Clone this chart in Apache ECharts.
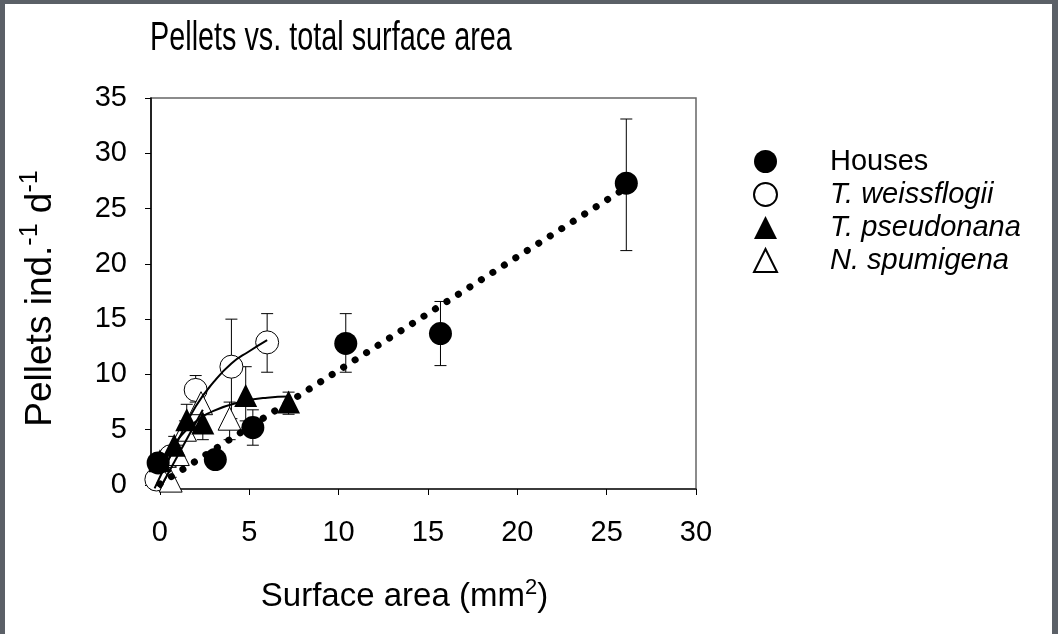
<!DOCTYPE html>
<html>
<head>
<meta charset="utf-8">
<script src="https://cdn.jsdelivr.net/npm/echarts@6/dist/echarts.min.js"></script>
<style>
  html, body { margin: 0; padding: 0; background: #5b6067; }
  #panel { position: absolute; left: 5px; top: 4px; width: 1047px; height: 630px; background: #fff; }
  #main { position: absolute; left: 0; top: 0; width: 1058px; height: 634px; }
</style>
</head>
<body>
<div id="panel"></div>
<div id="main"></div>
<script>
// tick labels
const xTicks = [0, 5, 10, 15, 20, 25, 30];
const yTicks = [0, 5, 10, 15, 20, 25, 30, 35];

// Houses (filled circles)
const housesX = [-0.1, 3.1, 5.2, 10.4, 15.7, 26.1];
const housesY = [2.0, 2.3, 5.2, 12.8, 13.7, 27.3];
const housesLow = [1.6, 2.0, 3.6, 10.2, 10.8, 21.2];
const housesHigh = [2.4, 2.6, 6.8, 15.5, 16.6, 33.1];

// T. weissflogii (open circles)
const weissX = [-0.2, 0.6, 2.0, 4.0, 6.0];
const weissY = [0.5, 2.6, 8.6, 10.7, 12.9];
const weissLow = [0.3, 1.6, 7.5, 6.0, 10.2];
const weissHigh = [0.8, 3.5, 9.9, 15.0, 15.5];

// T. pseudonana (filled triangles)
const pseudoX = [0.0, 0.8, 1.5, 2.4, 4.8, 7.2];
const pseudoY = [2.2, 3.6, 5.9, 5.6, 8.1, 7.5];
const pseudoLow = [1.4, 2.8, 4.5, 4.1, 5.8, 6.4];
const pseudoHigh = [2.9, 4.4, 7.3, 6.6, 10.7, 8.4];

// N. spumigena (open triangles)
const spumX = [0.6, 1.0, 1.4, 2.3, 3.9];
const spumY = [0.4, 2.8, 5.0, 7.4, 6.0];
const spumLow = [0.2, 2.0, 4.2, 6.5, 4.1];
const spumHigh = [0.7, 3.6, 5.8, 8.3, 7.5];

// fitted curves
const housesFitX = [0.0, 26.1];
const housesFitY = [0.1, 26.9];
const weissFitX = [-0.3, 0.5, 1.0, 2.0, 3.0, 4.0, 5.0, 6.0];
const weissFitY = [-0.3, 2.4, 4.0, 7.1, 9.3, 11.0, 12.1, 13.1];
const pseudoFitX = [0.0, 0.5, 1.0, 1.9, 3.0, 4.5, 6.0, 7.2];
const pseudoFitY = [1.2, 2.9, 4.1, 5.6, 6.7, 7.5, 7.9, 8.0];
const spumFitX = [0.0, 2.4];
const spumFitY = [-0.3, 6.8];

const FONT = "'Liberation Sans', Arial, sans-serif";

function zip(xs, ys) {
  return xs.map((x, i) => [x, ys[i]]);
}

function errorBars(name, xs, lows, highs) {
  return {
    name: name + " error",
    type: "custom",
    silent: true,
    z: 2,
    data: xs.map((x, i) => [x, lows[i], highs[i]]),
    encode: { x: 0, y: [1, 2] },
    renderItem: (params, api) => {
      const lo = api.coord([api.value(0), api.value(1)]);
      const hi = api.coord([api.value(0), api.value(2)]);
      const cap = 6;
      const style = { stroke: "#000", lineWidth: 1 };
      return {
        type: "group",
        children: [
          { type: "line", shape: { x1: lo[0], y1: lo[1], x2: hi[0], y2: hi[1] }, style },
          { type: "line", shape: { x1: lo[0] - cap, y1: lo[1], x2: lo[0] + cap, y2: lo[1] }, style },
          { type: "line", shape: { x1: hi[0] - cap, y1: hi[1], x2: hi[0] + cap, y2: hi[1] }, style },
        ],
      };
    },
  };
}

function points(name, xs, ys, symbol, filled) {
  return {
    name: name,
    type: "scatter",
    z: 3,
    symbol: symbol,
    symbolSize: 23,
    data: zip(xs, ys),
    itemStyle: {
      color: filled ? "#000" : "#fff",
      borderColor: "#000",
      borderWidth: filled ? 0 : 1,
      opacity: 1,
    },
  };
}

function fitLine(name, xs, ys, dotted) {
  return {
    name: name + " fit",
    type: "line",
    z: 4,
    silent: true,
    showSymbol: false,
    smooth: !dotted,
    data: zip(xs, ys),
    lineStyle: dotted
      ? { color: "#000", width: 7, type: [0.1, 13.5], cap: "round" }
      : { color: "#000", width: 2 },
  };
}

const chart = echarts.init(document.getElementById("main"), null, { renderer: "canvas" });

const option = {
  backgroundColor: "transparent",
  animation: false,
  graphic: [
    {
      type: "text",
      x: 150,
      y: 19,
      scaleX: 0.72,
      style: {
        text: "Pellets vs. total surface area",
        fontFamily: FONT,
        fontSize: 40,
        fill: "#000",
      },
    },
  ],
  legend: {
    orient: "vertical",
    left: 748,
    top: 142,
    itemWidth: 23,
    itemHeight: 23,
    itemGap: 4,
    data: ["Houses", "T. weissflogii", "T. pseudonana", "N. spumigena"],
    formatter: (name) => (name === "Houses" ? "{n|" + name + "}" : "{i|" + name + "}"),
    textStyle: {
      fontFamily: FONT,
      fontSize: 29,
      color: "#000",
      padding: [0, 0, 0, 48],
      rich: {
        n: { fontFamily: FONT, fontSize: 29, color: "#000" },
        i: { fontFamily: FONT, fontSize: 29, color: "#000", fontStyle: "italic" },
      },
    },
  },
  grid: {
    left: 151,
    right: 362,
    top: 98,
    bottom: 145,
    show: true,
    borderColor: "#666",
    borderWidth: 1.5,
    backgroundColor: "transparent",
  },
  xAxis: {
    type: "value",
    min: -0.5,
    max: 30,
    name: "{a|Surface area (mm}{s|2}{a|)}",
    nameLocation: "middle",
    nameGap: 88,
    nameTextStyle: {
      padding: [0, 38, 0, 0],
      rich: {
        a: { fontFamily: FONT, fontSize: 33, color: "#000" },
        s: { fontFamily: FONT, fontSize: 22, color: "#000", padding: [0, 0, 18, 0] },
      },
    },
    splitLine: { show: false },
    axisLine: { onZero: false, lineStyle: { color: "#222", width: 1.5 } },
    axisTick: { customValues: xTicks, length: 6, lineStyle: { color: "#000" } },
    axisLabel: {
      customValues: xTicks,
      margin: 29,
      fontFamily: FONT,
      fontSize: 29,
      color: "#000",
    },
  },
  yAxis: {
    type: "value",
    min: -0.36,
    max: 35,
    name: "{a|Pellets ind.}{s|-1}{a| d}{s|-1}",
    nameLocation: "middle",
    nameRotate: 90,
    nameGap: 88,
    nameTextStyle: {
      padding: [0, 10, 0, 0],
      rich: {
        a: { fontFamily: FONT, fontSize: 37, color: "#000" },
        s: { fontFamily: FONT, fontSize: 25, color: "#000", padding: [0, 0, 20, 0] },
      },
    },
    splitLine: { show: false },
    axisLine: { onZero: false, lineStyle: { color: "#000", width: 1.5 } },
    axisTick: { customValues: yTicks, length: 6, lineStyle: { color: "#000" } },
    axisLabel: {
      customValues: yTicks,
      margin: 24,
      fontFamily: FONT,
      fontSize: 29,
      color: "#000",
    },
  },
  series: [
    errorBars("T. weissflogii", weissX, weissLow, weissHigh),
    points("T. weissflogii", weissX, weissY, "circle", false),
    errorBars("N. spumigena", spumX, spumLow, spumHigh),
    points("N. spumigena", spumX, spumY, "triangle", false),
    errorBars("T. pseudonana", pseudoX, pseudoLow, pseudoHigh),
    points("T. pseudonana", pseudoX, pseudoY, "triangle", true),
    errorBars("Houses", housesX, housesLow, housesHigh),
    points("Houses", housesX, housesY, "circle", true),
    fitLine("Houses", housesFitX, housesFitY, true),
    fitLine("T. weissflogii", weissFitX, weissFitY, false),
    fitLine("T. pseudonana", pseudoFitX, pseudoFitY, false),
    fitLine("N. spumigena", spumFitX, spumFitY, false),
  ],
};

chart.setOption(option);
</script>
</body>
</html>
